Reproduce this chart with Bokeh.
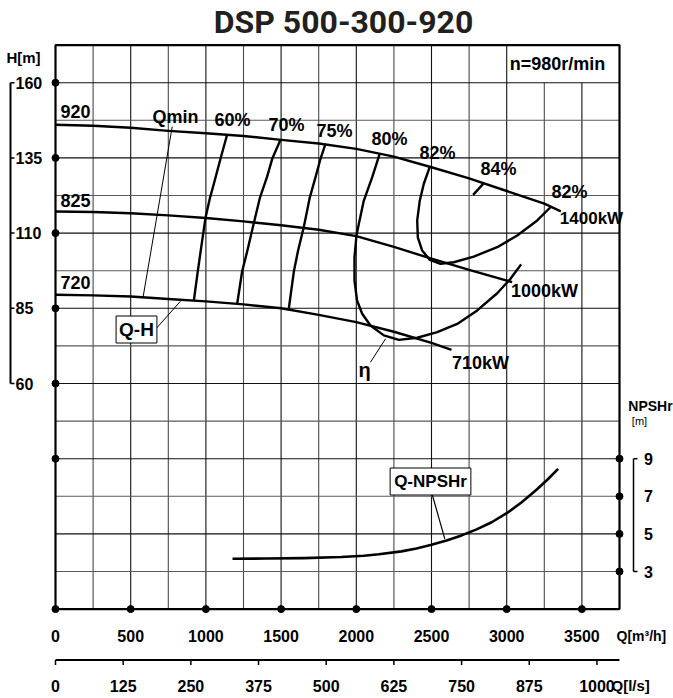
from bokeh.plotting import figure
from bokeh.models import Range1d
from bokeh.core.properties import value
from bokeh.embed import file_html
from bokeh.resources import INLINE

# ---------------- data ----------------
q_920 = [0, 250, 500, 750, 1000, 1250, 1500, 1750, 2000, 2250, 2500, 2750, 3000, 3250, 3360]
h_920 = [146.0, 145.7, 145.0, 144.0, 143.2, 142.3, 141.0, 139.8, 138.0, 135.4, 131.9, 128.2, 124.0, 119.8, 117.2]
q_825 = [0, 250, 500, 750, 1000, 1250, 1500, 1750, 2000, 2250, 2500, 2750, 3036]
h_825 = [117.2, 117.0, 116.6, 115.9, 115.0, 113.9, 112.6, 111.1, 109.0, 105.4, 101.5, 97.8, 93.7]
q_720 = [0, 250, 500, 750, 1000, 1250, 1500, 1750, 2000, 2250, 2500, 2633]
h_720 = [89.5, 89.3, 88.9, 88.1, 87.3, 86.3, 85.0, 82.8, 80.4, 77.2, 73.5, 71.2]

eff60_q = [1141, 1097, 1053, 1028, 997, 968, 946, 920]
eff60_h = [142.7, 134.7, 126.4, 121.9, 115.0, 105.0, 97.3, 87.6]
eff70_q = [1496, 1441, 1406, 1360, 1320, 1276, 1241, 1208]
eff70_h = [141.0, 134.7, 128.6, 121.9, 113.6, 104.2, 97.3, 86.5]
eff75_q = [1795, 1762, 1729, 1691, 1651, 1613, 1585, 1551]
eff75_h = [139.7, 134.7, 128.6, 121.9, 112.0, 104.2, 97.3, 84.8]
eff80_q = [2156, 2106, 2050, 2017, 2001, 1988, 1988, 2005, 2039, 2094, 2183, 2283, 2405, 2538, 2671, 2804, 2937, 3025, 3096]
eff80_h = [136.4, 128.6, 120.8, 113.1, 109.2, 102.0, 94.2, 87.6, 83.2, 79.3, 76.0, 74.5, 75.2, 77.1, 79.8, 84.3, 90.0, 94.8, 99.6]
eff82_q = [2489, 2449, 2422, 2405, 2409, 2438, 2489, 2560, 2648, 2781, 2937, 3070, 3203, 3291]
eff82_h = [132.1, 126.4, 120.8, 114.2, 108.6, 104.2, 101.1, 99.8, 100.3, 102.2, 105.3, 109.2, 114.2, 118.6]
eff84_q = [2777, 2848]
eff84_h = [122.7, 126.6]

qmin_q = [776, 583]
qmin_h = [145.4, 88.9]

npsh_q = [1177, 1400, 1650, 1900, 2050, 2150, 2300, 2400, 2500, 2600, 2700, 2800, 2900, 3000, 3100, 3200, 3270, 3342]
npsh_v = [3.68, 3.69, 3.71, 3.77, 3.84, 3.92, 4.07, 4.22, 4.42, 4.65, 4.92, 5.24, 5.62, 6.10, 6.68, 7.36, 7.88, 8.46]

h_ticks = [160, 135, 110, 85, 60]
npsh_ticks = [9, 7, 5, 3]
q_ticks = [0, 500, 1000, 1500, 2000, 2500, 3000, 3500]
ls_ticks = [0, 125, 250, 375, 500, 625, 750, 875, 1000]

# ---------------- layout ----------------
W, HF = 673, 698
FX0, FX1 = 55, 619          # grid frame in figure px
FY0, FY1 = 44.6, 608.6
Q_LO, Q_HI = 0, 3750
H_LO, H_HI = -15, 172.5
kx = (FX1 - FX0) / (Q_HI - Q_LO)
ky = (FY1 - FY0) / (H_HI - H_LO)
x_start = Q_LO - FX0 / kx
x_end = Q_HI + (W - FX1) / kx
y_end = H_HI + FY0 / ky
y_start = H_LO - (HF - FY1) / ky


def npsh_of(h):
    return 1 + (h - H_LO) * 2 / 12.5


def px2q(px):
    return Q_LO + (px - FX0) / kx


def py2h(py):
    return H_HI - (py - FY0) / ky


FONT = value("Liberation Sans")

p = figure(width=W, height=HF, output_backend="svg", toolbar_location=None,
           x_range=Range1d(x_start, x_end), y_range=Range1d(y_start, y_end),
           min_border=0, outline_line_color=None, background_fill_color="white",
           border_fill_color="white")
p.xaxis.visible = False
p.yaxis.visible = False
p.grid.visible = False
p.extra_y_ranges = {"npsh": Range1d(npsh_of(y_start), npsh_of(y_end))}
p.extra_x_ranges = {"ls": Range1d(x_start / 3.6, x_end / 3.6)}

# ---------------- grid ----------------
vx, vy0, vy1, vcol = [], [], [], []
q = 250
while q < Q_HI:
    vx.append(q)
    vy0.append(H_LO)
    vy1.append(160 if q > 3000 else H_HI)
    vcol.append("#111111" if q % 500 == 0 else "#4a4a4a")
    q += 250
p.segment(x0=vx, y0=vy0, x1=vx, y1=vy1, line_color=vcol, line_width=1.1)

hy, hcol = [], []
for k in range(1, 15):
    hv = H_LO + 12.5 * k
    hy.append(hv)
    hcol.append("#111111" if (hv % 25 == 10) else "#5a5a5a")
p.segment(x0=[Q_LO] * len(hy), y0=hy, x1=[Q_HI] * len(hy), y1=hy, line_color=hcol, line_width=1.1)

# frame
p.quad(left=Q_LO, right=Q_HI, bottom=H_LO, top=H_HI, fill_color=None,
       line_color="black", line_width=2.2)

# ---------------- curves ----------------
CW = 2.4
for qq, hh in [(q_920, h_920), (q_825, h_825), (q_720, h_720),
               (eff60_q, eff60_h), (eff70_q, eff70_h), (eff75_q, eff75_h),
               (eff80_q, eff80_h), (eff82_q, eff82_h), (eff84_q, eff84_h)]:
    p.line(qq, hh, line_color="black", line_width=CW, line_join="round")
p.line(qmin_q, qmin_h, line_color="black", line_width=1)
p.line(npsh_q, npsh_v, y_range_name="npsh", line_color="black", line_width=2.6, line_join="round")

# leaders
p.line([px2q(156), px2q(180)], [py2h(327.7), py2h(300.7)], line_color="black", line_width=1)
p.line([px2q(370), px2q(385)], [py2h(361.7), py2h(338.3)], line_color="black", line_width=1)
p.line([px2q(431.7), px2q(444.3)], [py2h(494), py2h(538.3)], line_color="black", line_width=1.2)

# ---------------- dots ----------------
p.scatter(q_ticks, [H_LO] * len(q_ticks), size=7, color="black")
p.scatter([Q_LO] * len(h_ticks), h_ticks, size=7, color="black")
p.scatter([Q_LO], [npsh_ticks[0]], y_range_name="npsh", size=7, color="black")
p.scatter([Q_HI] * len(npsh_ticks), npsh_ticks, y_range_name="npsh", size=7, color="black")


def label(px, py, txt, size=18, align="center", bold=True, font=FONT, color="black", **kw):
    p.text(x=[px2q(px)], y=[py2h(py)], text=[txt], text_font=font,
           text_font_size=f"{size}px", text_font_style="bold" if bold else "normal",
           text_align=align, text_baseline="middle", text_color=color, **kw)


# in-plot labels
label(75, 111, "920")
label(75, 200, "825")
label(75, 282, "720")
label(175, 116, "Qmin")
label(232, 119, "60%")
label(286, 124, "70%")
label(334, 130, "75%")
label(389, 138, "80%")
label(437, 152, "82%")
label(498, 168, "84%")
label(569, 191, "82%")
label(591, 218, "1400kW", size=17)
label(544, 290, "1000kW")
label(480, 362, "710kW")
label(364, 369, "η", size=20)
label(136, 329, "Q-H", size=19, background_fill_color="white",
      border_line_color="black", border_line_width=1, padding=3)
label(430, 481, "Q-NPSHr", size=17, background_fill_color="white",
      border_line_color="black", border_line_width=1, padding=4)
label(557, 63, "n=980r/min", size=18)

# title
label(343, 21, "DSP 500-300-920", size=32, font=value("Roboto"), color="#231f20")

# left H axis
p.text(x=[px2q(15)] * len(h_ticks), y=h_ticks, text=[str(v) for v in h_ticks],
       text_font=FONT, text_font_size="16px", text_font_style="bold",
       text_align="left", text_baseline="middle")
p.segment(x0=[px2q(10)], y0=[h_ticks[0]], x1=[px2q(10)], y1=[h_ticks[-1]],
          line_color="black", line_width=2)
p.segment(x0=[px2q(10)] * len(h_ticks), y0=h_ticks, x1=[px2q(14)] * len(h_ticks), y1=h_ticks,
          line_color="black", line_width=1.5)
label(23, 57, "H[m]", size=15)

# right NPSH axis
p.text(x=[px2q(648)] * len(npsh_ticks), y=npsh_ticks, y_range_name="npsh",
       text=[str(v) for v in npsh_ticks], text_font=FONT, text_font_size="16px",
       text_font_style="bold", text_align="center", text_baseline="middle")
p.segment(x0=[px2q(633)], y0=[npsh_ticks[0]], x1=[px2q(633)], y1=[npsh_ticks[-1]],
          y_range_name="npsh", line_color="black", line_width=1.5)
p.segment(x0=[px2q(633)] * 2, y0=[npsh_ticks[0], npsh_ticks[-1]],
          x1=[px2q(637)] * 2, y1=[npsh_ticks[0], npsh_ticks[-1]],
          y_range_name="npsh", line_color="black", line_width=1.5)
label(650, 405, "NPSHr", size=14)
label(639, 420, "[m]", size=11, bold=False)

# bottom Q axis (m3/h)
p.text(x=q_ticks, y=[py2h(635)] * len(q_ticks), text=[str(v) for v in q_ticks],
       text_font=FONT, text_font_size="16px", text_font_style="bold",
       text_align="center", text_baseline="middle")
label(616, 635, "Q[m³/h]", size=14, align="left")

# second Q axis (l/s)
p.segment(x0=[Q_LO], y0=[py2h(659.5)], x1=[Q_HI], y1=[py2h(659.5)], line_color="black", line_width=2)
p.segment(x0=ls_ticks, y0=[py2h(659.5)] * len(ls_ticks), x1=ls_ticks, y1=[py2h(664.5)] * len(ls_ticks),
          x_range_name="ls", line_color="black", line_width=1.5)
p.text(x=ls_ticks, y=[py2h(685)] * len(ls_ticks), x_range_name="ls",
       text=[str(v) for v in ls_ticks], text_font=FONT, text_font_size="16px",
       text_font_style="bold", text_align="center", text_baseline="middle")
label(611, 685, "Q[l/s]", size=15, align="left")

open("out.html", "w").write(file_html(p, INLINE))
